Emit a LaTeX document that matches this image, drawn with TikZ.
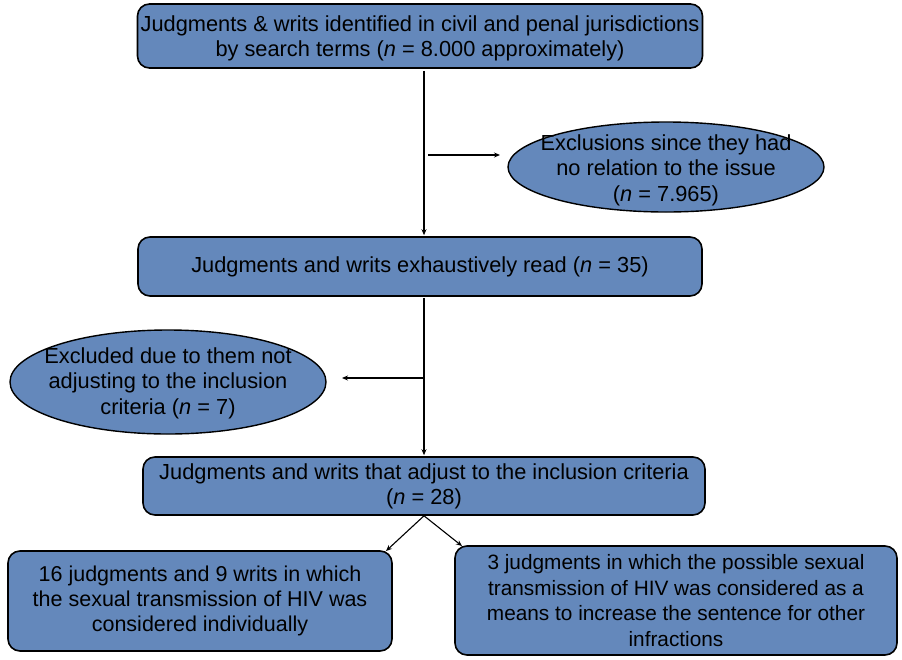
\documentclass[tikz,border=0pt]{standalone}
\usepackage{fontspec}
\setmainfont{Liberation Sans}
\usetikzlibrary{shapes.geometric,arrows.meta}
\definecolor{boxblue}{RGB}{100,136,187}
\begin{document}
\begin{tikzpicture}[x=1pt,y=-1pt,
  box/.style={draw=black,line width=1.6pt,fill=boxblue,rounded corners=12pt,inner sep=0pt,align=center,font=\fontsize{21.8}{25}\selectfont},
  oval/.style={draw=black,line width=1.4pt,fill=boxblue,ellipse,inner sep=0pt},
  ovaltext/.style={align=center,inner sep=0pt,font=\fontsize{21.8}{25.5}\selectfont},
  arr/.style={line width=1.1pt,-{Stealth[length=6pt,width=5pt]}}]
\useasboundingbox (0,0) rectangle (902,659);
\node[box,minimum width=565pt,minimum height=64pt,text depth=0pt] (top) at (420,36) {Judgments \& writs identified in civil and penal jurisdictions\\by search terms (\textit{n} = 8.000 approximately)};
\node[oval,minimum width=316pt,minimum height=90pt,label={[ovaltext,yshift=-3pt]center:Exclusions since they had\\no relation to the issue\\(\textit{n} = 7.965)}] (ex1) at (666,167) {};
\node[box,minimum width=564pt,minimum height=59pt] (read) at (420,266.5) {Judgments and writs exhaustively read (\textit{n} = 35)};
\node[oval,minimum width=316pt,minimum height=104pt,label={[ovaltext,yshift=-1pt]center:Excluded due to them not\\adjusting to the inclusion\\criteria (\textit{n} = 7)}] (ex2) at (168,382) {};
\node[box,minimum width=562pt,minimum height=58pt] (incl) at (424,486) {Judgments and writs that adjust to the inclusion criteria\\(\textit{n} = 28)};
\node[box,minimum width=384pt,minimum height=100pt,font=\fontsize{21.5}{25}\selectfont] (left) at (200,601) {16 judgments and 9 writs in which\\the sexual transmission of HIV was\\considered individually};
\node[box,minimum width=442pt,minimum height=109pt,font=\fontsize{20.8}{25.5}\selectfont] (right) at (676,600.5) {3 judgments in which the possible sexual\\transmission of HIV was considered as a\\means to increase the sentence for other\\infractions};
\coordinate (vx) at (424,0);
\coordinate (s1) at (top.south -| vx);
\coordinate (e1) at (read.north -| vx);
\coordinate (b1) at (428,155);
\coordinate (b1e) at (500,155);
\coordinate (s2) at (read.south -| vx);
\coordinate (e2) at (incl.north -| vx);
\coordinate (b2) at (423,378);
\coordinate (b2e) at (342,378);
\coordinate (s3) at (incl.south -| vx);
\coordinate (l3) at (386,551);
\coordinate (r3) at (462,546);
\draw[arr] ([yshift=-2pt]s1) -- ([yshift=1pt]e1);
\draw[arr] (b1) -- (b1e);
\draw[arr] ([yshift=-1pt]s2) -- ([yshift=1pt]e2);
\draw[arr] (b2) -- (b2e);
\draw[arr] (s3) -- (l3);
\draw[arr] (s3) -- (r3);
\end{tikzpicture}
\end{document}
